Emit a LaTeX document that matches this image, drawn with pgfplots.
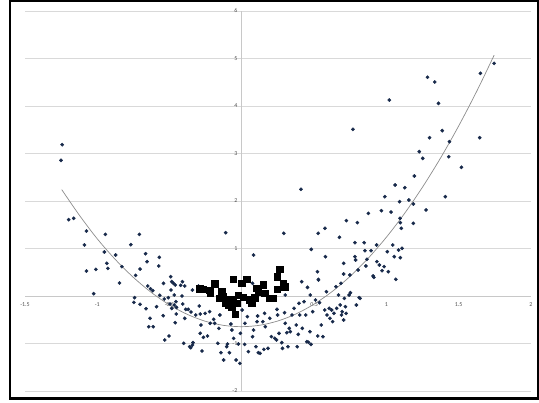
\documentclass[border=0pt]{standalone}
\usepackage{pgfplots}
\pgfplotsset{compat=1.18}
\usepackage{fontspec}
\setmainfont{Carlito}
\definecolor{dotblue}{HTML}{17294A}
\definecolor{gridgray}{HTML}{D9D9D9}
\definecolor{axgray}{HTML}{C8C8C8}
\definecolor{curvegray}{HTML}{8C8C8C}
\definecolor{labgray}{HTML}{505050}
\begin{document}
\begin{tikzpicture}[x=1bp,y=1bp]
\path[use as bounding box] (0,0) rectangle (539,402);
\begin{axis}[
  at={(25bp,11bp)}, anchor=south west,
  scale only axis, width=506bp, height=380bp,
  xmin=-1.5, xmax=2, ymin=-2, ymax=6,
  axis lines=middle,
  axis line style={-, draw=axgray, line width=0.9bp},
  xtick={-1.5,-1,-0.5,0,0.5,1,1.5,2},
  xticklabels={-1.5,-1,-0.5,0,0.5,1,1.5,2},
  ytick={-2,-1,0,1,2,3,4,5,6},
  yticklabels={-2,-1,0,1,2,3,4,5,6},
  major tick length=0pt,
  ymajorgrids,
  grid style={draw=gridgray, line width=0.9bp},
  tick label style={font=\fontsize{6}{7}\selectfont, text=labgray},
  xticklabel style={anchor=north, yshift=-3bp},
  yticklabel style={anchor=east, xshift=-1bp},
  clip=false,
]
\addplot[only marks, mark=*, mark size=1.65bp, draw=dotblue, fill=dotblue] table {
x y
-1.243 3.186
-1.251 2.856
-1.198 1.607
-1.163 1.635
-1.075 1.368
-1.089 1.074
-1.075 0.526
-1.010 0.561
-1.025 0.049
-0.944 1.298
-0.951 0.926
-0.934 0.688
-0.927 0.582
-0.873 0.863
-0.846 0.274
-0.830 0.618
-0.768 1.081
-0.709 1.298
-0.735 0.435
-0.704 0.568
-0.742 -0.035
-0.747 -0.133
-0.704 -0.175
-0.666 0.891
-0.656 0.723
-0.651 0.211
-0.632 0.154
-0.616 0.112
-0.663 -0.267
-0.635 -0.470
-0.644 -0.646
-0.613 -0.646
-0.571 0.814
-0.575 0.632
-0.590 -0.225
-0.568 0.014
-0.542 0.267
-0.537 -0.063
-0.544 -0.414
-0.533 -0.926
-0.504 -0.842
-0.509 -0.035
-0.492 0.407
-0.485 0.302
-0.473 0.267
-0.461 0.232
-0.490 0.126
-0.468 0.021
-0.456 -0.119
-0.497 -0.168
-0.485 -0.260
-0.468 -0.189
-0.452 -0.239
-0.461 -0.561
-0.454 -0.379
-0.423 0.225
-0.411 0.302
-0.395 0.211
-0.414 0.000
-0.409 -0.168
-0.388 -0.281
-0.395 -0.470
-0.402 -0.996
-0.361 -1.067
-0.342 -1.032
-0.354 -1.088
-0.338 -0.982
-0.371 -0.281
-0.352 -0.337
-0.342 0.126
-0.300 0.211
-0.319 -0.400
-0.288 -0.379
-0.295 -0.211
-0.283 -0.611
-0.288 -0.786
-0.276 -1.158
-0.266 -0.870
-0.238 -0.842
-0.254 -0.365
-0.223 -0.330
-0.219 -0.575
-0.195 -0.491
-0.188 -0.575
-0.159 -0.681
-0.152 -0.400
-0.166 -0.996
-0.145 -1.193
-0.126 -1.347
-0.112 1.333
-0.105 -1.067
-0.100 -1.011
-0.086 -1.193
-0.076 -0.589
-0.069 -0.716
-0.057 -0.891
-0.040 -1.347
-0.024 -1.011
-0.014 -1.418
-0.010 -0.786
-0.033 -0.393
0.002 -0.295
0.019 -1.018
0.021 -0.575
0.038 -0.435
0.045 -1.172
0.081 0.863
0.081 -0.716
0.074 -0.856
0.097 -1.067
0.114 -1.193
0.126 -1.207
0.105 -0.540
0.109 -0.421
0.145 -0.540
0.152 -1.123
0.162 -0.646
0.157 -0.365
0.181 -1.102
0.193 -0.470
0.204 -0.856
0.228 -0.891
0.240 -0.926
0.243 -0.281
0.247 -0.400
0.257 -0.786
0.276 -0.982
0.281 -1.102
0.290 1.319
0.295 -0.351
0.300 -0.575
0.311 -0.772
0.335 -0.751
0.319 -1.067
0.300 0.021
0.328 -0.681
0.347 -0.400
0.361 -0.260
0.376 -0.611
0.383 -1.067
0.390 -0.807
0.395 -0.154
0.400 -0.400
0.409 2.246
0.414 0.302
0.418 -0.681
0.430 -0.119
0.442 -0.400
0.454 0.182
0.449 -0.961
0.461 -0.975
0.478 -1.018
0.473 0.021
0.471 -0.751
0.480 0.982
0.490 -0.330
0.509 -0.084
0.525 -0.842
0.528 1.319
0.523 0.512
0.530 0.337
0.537 -0.140
0.549 -0.611
0.561 -0.856
0.575 1.425
0.578 0.828
0.573 -0.295
0.585 0.091
0.589 -0.400
0.604 -0.260
0.609 -0.470
0.621 -0.295
0.628 -0.540
0.637 -0.365
0.656 -0.260
0.651 0.196
0.675 1.235
0.668 0.021
0.680 -0.189
0.685 0.267
0.689 -0.400
0.694 -0.330
0.704 0.688
0.704 0.463
0.704 -0.505
0.709 -0.049
0.716 -0.225
0.721 -0.365
0.723 1.586
0.742 0.021
0.747 0.442
0.751 0.070
0.768 3.509
0.782 1.123
0.782 0.828
0.787 0.758
0.792 -0.189
0.799 1.544
0.804 0.547
0.811 -0.035
0.818 -0.049
0.846 1.123
0.851 0.954
0.858 0.632
0.865 0.772
0.875 1.740
0.894 0.954
0.908 0.421
0.913 0.393
0.932 1.074
0.934 0.723
0.951 0.653
0.965 1.796
0.970 0.533
0.984 0.618
0.989 2.091
1.006 0.933
1.013 0.512
1.020 4.126
1.032 1.768
1.044 1.074
1.054 0.828
1.060 2.337
1.065 0.351
1.084 0.968
1.091 1.986
1.094 1.635
1.096 1.544
1.096 0.807
1.103 1.425
1.108 1.004
1.127 2.281
1.155 2.021
1.186 1.937
1.186 1.530
1.193 2.526
1.227 3.039
1.251 2.898
1.274 1.811
1.284 4.604
1.298 3.333
1.334 4.505
1.360 4.056
1.386 3.481
1.407 2.091
1.431 2.933
1.436 3.249
1.519 2.709
1.645 3.333
1.650 4.688
1.745 4.898
0.074 0.267
0.529 0.350
};
\addplot[curvegray, line width=0.7bp, smooth] coordinates {
(-1.246,2.240) (-1.125,1.705) (-1.0,1.203) (-0.875,0.768) (-0.75,0.391) (-0.625,0.072) (-0.5,-0.188) (-0.375,-0.390) (-0.25,-0.534) (-0.125,-0.619) (0,-0.646) (0.125,-0.615) (0.25,-0.525) (0.375,-0.377) (0.5,-0.170) (0.625,0.095) (0.75,0.418) (0.875,0.799) (1.0,1.239) (1.125,1.737) (1.25,2.294) (1.375,2.909) (1.5,3.582) (1.625,4.313) (1.745,5.070)
};
\addplot[only marks, mark=square*, mark size=3.3bp, draw=black, fill=black] table {
x y
-0.290 0.154
-0.268 0.140
-0.221 0.126
-0.219 0.060
-0.186 0.260
-0.140 0.091
-0.157 -0.049
-0.129 -0.014
-0.105 -0.084
-0.112 -0.154
-0.082 -0.119
-0.094 -0.189
-0.071 -0.225
-0.059 -0.070
-0.036 -0.154
-0.045 -0.379
-0.059 0.351
-0.001 0.267
0.033 0.351
-0.025 0.021
0.010 -0.028
0.056 -0.084
0.068 -0.154
0.102 0.161
0.114 0.091
0.090 -0.035
0.148 0.232
0.160 0.056
0.194 -0.049
0.217 -0.049
0.245 0.407
0.263 0.561
0.287 0.267
0.298 0.196
0.245 0.140
};
\end{axis}
\draw[black, line width=2.2bp] (10,3.5) rectangle (538.5,401);
\end{tikzpicture}
\end{document}
